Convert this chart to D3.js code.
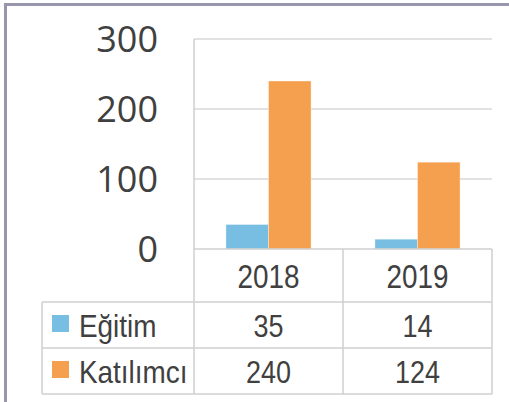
<!DOCTYPE html>
<html>
<head>
<meta charset="utf-8">
<script src="https://cdn.jsdelivr.net/npm/d3@7"></script>
<style>
  html, body { margin: 0; padding: 0; background: #fff; }
  svg { display: block; }
</style>
</head>
<body>
<svg id="chart" width="509" height="402"></svg>
<script>
const categories = ["2018", "2019"];
const seriesNames = ["Eğitim", "Katılımcı"];
const egitim = [35, 14];
const katilimci = [240, 124];
const yTicks = [0, 100, 200, 300];
const seriesValues = [egitim, katilimci];
const seriesColors = ["#78bde2", "#f4a04f"];

const svg = d3.select("#chart");
const W = 509, H = 402;

// layout
const plotLeft = 194, plotRight = 492, plotTop = 39, plotBottom = 249;
const tableLeft = 42, headerBottom = 302, rowH = 46;
const gridColor = "#d9d9d9", tableColor = "#cfcfcf";

// frame
svg.append("line").attr("x1", 5.5).attr("x2", 5.5).attr("y1", 3).attr("y2", H)
  .attr("stroke", "#9896ac").attr("stroke-width", 3);
svg.append("line").attr("x1", 4).attr("x2", W).attr("y1", 4.5).attr("y2", 4.5)
  .attr("stroke", "#9896ac").attr("stroke-width", 3);

const y = d3.scaleLinear().domain([0, 300]).range([plotBottom, plotTop]);
const x0 = d3.scaleBand().domain(categories).range([plotLeft, plotRight]);
const x1 = d3.scaleBand().domain(seriesNames).range([0, x0.bandwidth()]).paddingOuter(0.75);

// gridlines
svg.append("g").selectAll("line").data(yTicks.filter(d => d > 0)).join("line")
  .attr("x1", plotLeft).attr("x2", plotRight)
  .attr("y1", d => y(d)).attr("y2", d => y(d))
  .attr("stroke", gridColor).attr("stroke-width", 1.5);

// y axis labels
const yAxis = d3.axisLeft(y).tickValues(yTicks).tickSize(0).tickPadding(0);
const gy = svg.append("g").attr("transform", `translate(158,0)`).call(yAxis);
gy.select(".domain").remove();
gy.selectAll("text")
  .attr("font-family", "'Open Sans', sans-serif")
  .attr("font-size", 36)
  .attr("fill", "#404040")
  .attr("dy", "0.35em");

// bars
const groups = svg.append("g").selectAll("g").data(categories).join("g")
  .attr("transform", d => `translate(${x0(d)},0)`);
groups.selectAll("rect")
  .data((c, ci) => seriesNames.map((s, si) => ({ s, v: seriesValues[si][ci], color: seriesColors[si] })))
  .join("rect")
  .attr("x", d => x1(d.s))
  .attr("width", x1.bandwidth())
  .attr("y", d => y(d.v))
  .attr("height", d => y(0) - y(d.v))
  .attr("fill", d => d.color)
  .attr("stroke", "rgba(255,255,255,0.35)")
  .attr("stroke-width", 1);

// table lines
const tableBottom = headerBottom + rowH * seriesNames.length;
const tl = svg.append("g").attr("stroke", tableColor).attr("stroke-width", 1.5);
// plot left axis line going down through the table
tl.append("line").attr("x1", plotLeft).attr("x2", plotLeft).attr("y1", plotTop).attr("y2", tableBottom);
// baseline
tl.append("line").attr("x1", plotLeft).attr("x2", plotRight).attr("y1", plotBottom).attr("y2", plotBottom);
// column verticals
categories.forEach(c => {
  const xr = x0(c) + x0.bandwidth();
  tl.append("line").attr("x1", xr).attr("x2", xr).attr("y1", plotBottom).attr("y2", tableBottom);
});
tl.append("line").attr("x1", tableLeft).attr("x2", tableLeft).attr("y1", headerBottom).attr("y2", tableBottom);
// row horizontals
d3.range(seriesNames.length + 1).forEach(i => {
  const yy = headerBottom + i * rowH;
  tl.append("line").attr("x1", tableLeft).attr("x2", plotRight).attr("y1", yy).attr("y2", yy);
});

// header texts
svg.append("g").selectAll("text").data(categories).join("text")
  .attr("transform", d => `translate(${x0(d) + x0.bandwidth() / 2},${headerBottom - 14}) scale(0.82,1)`)
  .attr("text-anchor", "middle")
  .attr("font-family", "'Liberation Sans', Arial, sans-serif")
  .attr("font-size", 34)
  .attr("fill", "#404040")
  .text(d => d);

// rows
seriesNames.forEach((s, si) => {
  const rowBase = headerBottom + (si + 1) * rowH - 11;
  const rowTop = headerBottom + si * rowH;
  svg.append("rect").attr("x", 52).attr("y", rowTop + 13).attr("width", 17).attr("height", 17)
    .attr("fill", seriesColors[si]);
  svg.append("text")
    .attr("transform", `translate(79,${rowBase}) scale(0.9,1)`)
    .attr("font-family", "'Liberation Sans', Arial, sans-serif")
    .attr("font-size", 31)
    .attr("fill", "#404040")
    .text(s);
  svg.append("g").selectAll("text").data(categories).join("text")
    .attr("transform", (c) => `translate(${x0(c) + x0.bandwidth() / 2},${rowBase}) scale(0.87,1)`)
    .attr("text-anchor", "middle")
    .attr("font-family", "'Liberation Sans', Arial, sans-serif")
    .attr("font-size", 31)
    .attr("fill", "#404040")
    .text((c, ci) => seriesValues[si][ci]);
});
</script>
</body>
</html>
